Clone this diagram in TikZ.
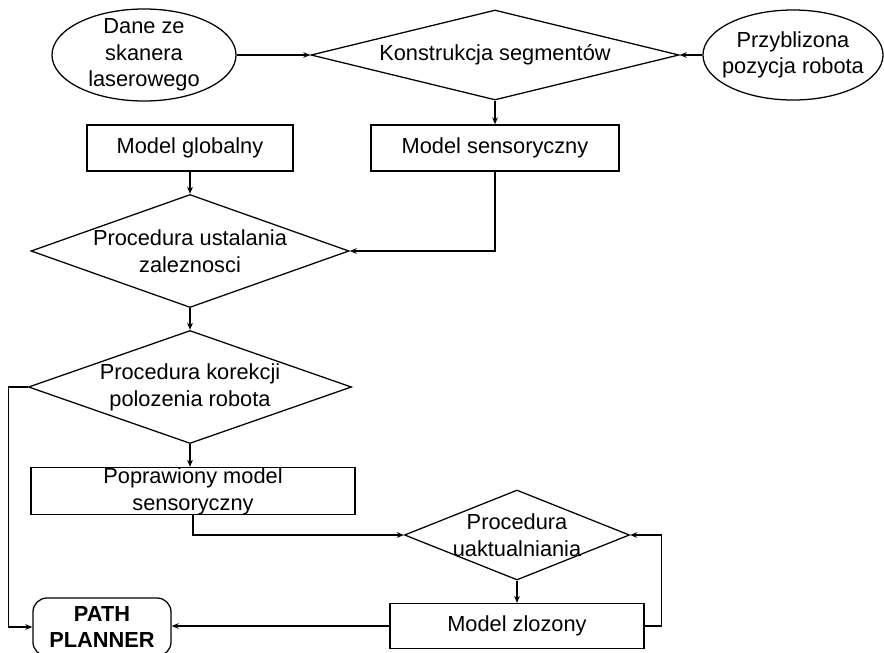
\documentclass[tikz,border=0pt]{standalone}
\usepackage{fontspec}
\setmainfont{Liberation Sans}
\usetikzlibrary{shapes.geometric, arrows.meta, positioning}

\begin{document}
\begin{tikzpicture}[x=0.025cm, y=-0.025cm,
        every path/.style={line width=0.9pt},
        every node/.style={font=\fontsize{15.5}{19}\selectfont, align=center, inner sep=0pt},
        blok/.style={draw, rectangle, minimum height=1.15cm},
        romb/.style={draw, diamond, inner xsep=-20pt, inner ysep=-8pt, shape aspect=3},
        owal/.style={draw, ellipse, inner xsep=-15pt, inner ysep=-10pt},
        strz/.style={-{Stealth[length=5pt, width=4pt]}}]
        \useasboundingbox (0,0) rectangle (884,653);
        \node[owal, minimum width=4.6cm, minimum height=2.3cm] (skan) at (144,55) {Dane ze\\skanera\\laserowego};
        \node[romb, minimum width=9.2cm, minimum height=2.25cm] (seg) at (495,55) {Konstrukcja segmentów};
        \node[owal, minimum width=4.5cm, minimum height=2.25cm] (poz) at (793,55) {Przyblizona\\pozycja robota};
        \node[blok, minimum width=5.15cm] (glob) at (190,148) {Model globalny};
        \node[blok, minimum width=6.2cm] (sens) at (495,148) {Model sensoryczny};
        \node[romb, minimum width=7.95cm, minimum height=2.825cm] (ust) at (190,251) {Procedura ustalania\\zaleznosci};
        \node[romb, minimum width=8.075cm, minimum height=2.825cm] (kor) at (190,387) {Procedura korekcji\\polozenia robota};
        \node[blok, minimum width=8.1cm] (popr) at (193,491) {Poprawiony model\\sensoryczny};
        \node[romb, minimum width=5.625cm, minimum height=2.25cm] (uakt) at (517,535) {Procedura\\uaktualniania};
        \node[blok, minimum width=6.35cm, minimum height=1.125cm] (zloz) at (517,626) {Model zlozony};
        \node[draw, rounded corners=0.35cm, minimum width=3.45cm, minimum height=1.45cm, font=\fontsize{15.5}{19}\selectfont\bfseries] (plan) at (102,627) {PATH\\PLANNER};
        \draw[strz] (skan.east) -- (seg.west);
        \draw[strz] (poz.west) -- (seg.east);
        \draw[strz] (seg.south) -- (sens.north);
        \draw[strz] (glob.south) -- (ust.north);
        \draw[strz] (sens.south) |- (ust.east);
        \draw[strz] (ust.south) -- (kor.north);
        \draw[strz] (kor.south) -- (kor.south |- popr.north);
        \draw[strz] (popr.south) |- (uakt.west);
        \draw[strz] (uakt.south) -- (zloz.north);
        \draw[strz] (zloz.east) -- ++(17,0) |- (uakt.east);
        \draw[strz] (zloz.west) -- (zloz.west -| plan.east);
        \draw[strz] (kor.west) -- ++(-19,0) |- (plan.west);
    \end{tikzpicture}
\end{document}
